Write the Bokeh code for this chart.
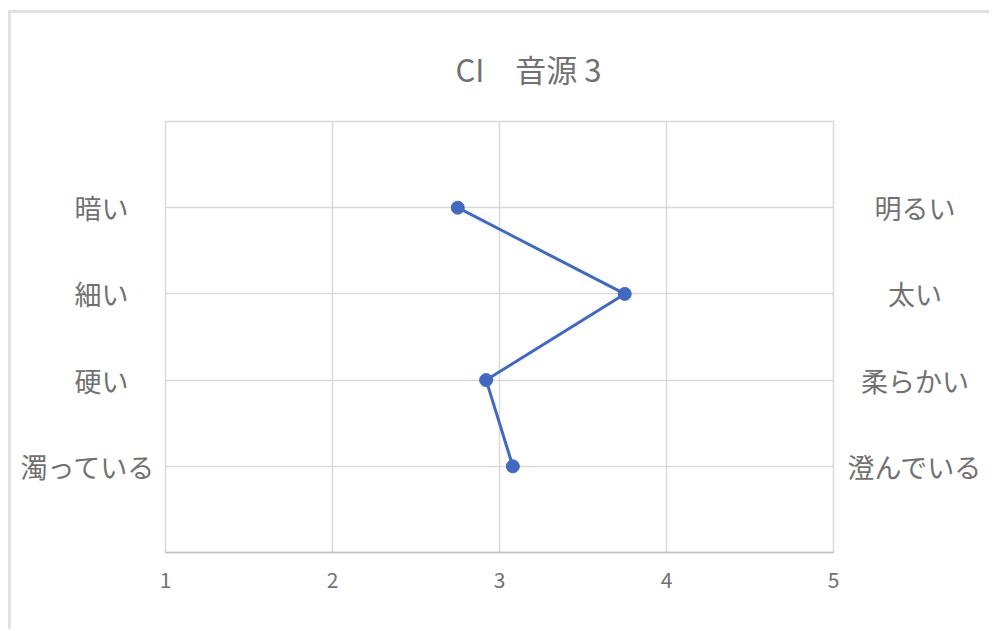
from bokeh.plotting import figure
from bokeh.models import ColumnDataSource, FixedTicker, LinearAxis, Range1d
from bokeh.embed import file_html
from bokeh.resources import INLINE

# semantic differential pairs (left pole / right pole) and mean ratings
left_terms = ["暗い", "細い", "硬い", "濁っている"]
right_terms = ["明るい", "太い", "柔らかい", "澄んでいる"]
scores = [2.75, 3.75, 2.92, 3.08]
scale_ticks = [1, 2, 3, 4, 5]
title_text = "CI　音源 3"

JP = "Noto Sans CJK JP"
TEXT = "#717171"
GRID = "#d9d9d9"
BLUE = "#4169c0"

n = len(left_terms)
rows = [n - i for i in range(n)]  # first pair on top

p = figure(width=978, height=616, output_backend="svg", toolbar_location=None,
           x_range=Range1d(1, 5), y_range=Range1d(0, n + 1),
           min_border_left=154, min_border_right=159,
           min_border_top=107, min_border_bottom=80)
# outer chart frame
p.margin = (10, 0, 0, 8)
p.styles = {"border-top": "3px solid #e2e2e2", "border-left": "3px solid #e2e2e2",
            "box-sizing": "content-box"}
p.outline_line_color = GRID
p.outline_line_width = 1.5
p.background_fill_color = "white"
p.border_fill_color = "white"

p.title.text = title_text
p.title.align = "left"
p.title.offset = 290
p.title.standoff = 61
p.title.text_font = JP
p.title.text_font_size = "31px"
p.title.text_font_style = "normal"
p.title.text_color = TEXT

# x axis: rating scale
p.xaxis.ticker = FixedTicker(ticks=scale_ticks)
p.xaxis.major_tick_line_color = None
p.xaxis.minor_tick_line_color = None
p.xaxis.axis_line_color = "#bfbfbf"
p.xaxis.axis_line_width = 1.5
p.xaxis.major_label_text_font = JP
p.xaxis.major_label_text_font_size = "21px"
p.xaxis.major_label_text_color = TEXT
p.xaxis.major_label_standoff = 13


def style_pole_axis(ax, labels, standoff):
    ax.ticker = FixedTicker(ticks=rows)
    ax.major_label_overrides = {r: t for r, t in zip(rows, labels)}
    ax.axis_line_color = None
    ax.major_tick_line_color = None
    ax.minor_tick_line_color = None
    ax.major_label_standoff = standoff
    ax.major_label_text_font = JP
    ax.major_label_text_font_size = "27px"
    ax.major_label_text_color = TEXT


# left poles sit right-aligned, short ones held off by one ideographic space
longest_left = max(len(t) for t in left_terms)
left_labels = [t if len(t) == longest_left else t + "\u3000" for t in left_terms]
style_pole_axis(p.yaxis[0], left_labels, 4)

# right poles centred in their column via en-space padding
longest_right = max(len(t) for t in right_terms)
right_labels = ["\u2002" * (longest_right - len(t)) + t for t in right_terms]
right_axis = LinearAxis()
style_pole_axis(right_axis, right_labels, 8)
p.add_layout(right_axis, "right")

p.ygrid.ticker = FixedTicker(ticks=rows)
p.xgrid.ticker = FixedTicker(ticks=scale_ticks)
for g in (p.xgrid, p.ygrid):
    g.grid_line_color = GRID
    g.grid_line_width = 1.5

src = ColumnDataSource(dict(x=scores, y=rows))
p.line("x", "y", source=src, line_color=BLUE, line_width=3)
p.scatter("x", "y", source=src, size=13, fill_color=BLUE, line_color=BLUE)

open("out.html", "w").write(file_html(p, INLINE))
